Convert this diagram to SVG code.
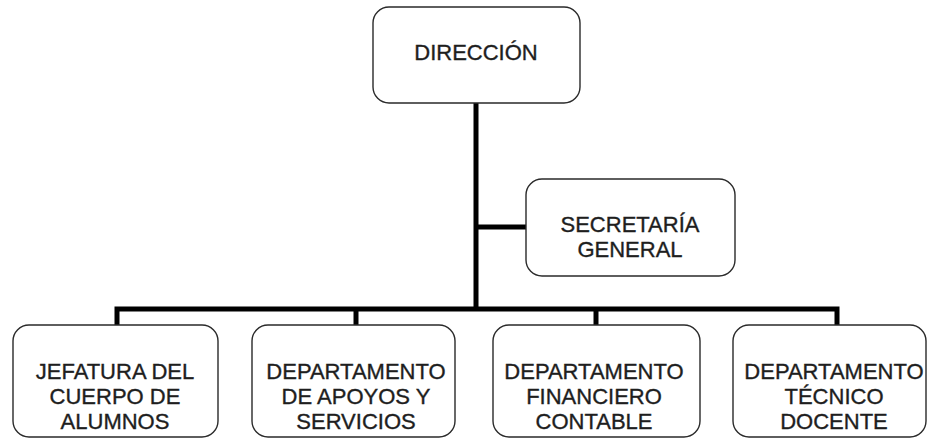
<svg xmlns="http://www.w3.org/2000/svg" width="928" height="440" viewBox="0 0 928 440">
<style>
.box{fill:#fff;stroke:#2a2a2a;stroke-width:1.4}
.t{font-family:"Liberation Sans",Arial,sans-serif;font-size:22px;fill:#1e1e1e;stroke:#1e1e1e;stroke-width:0.35;text-anchor:middle}
.c{fill:none;stroke:#000;stroke-width:5;stroke-linejoin:miter;stroke-linecap:butt}
</style>
<rect width="928" height="440" fill="#fff"/>
<g id="connectors">
<path class="c" d="M476 103 V309"/>
<path class="c" d="M476 227 H526"/>
<path class="c" d="M117 325 V309 H837 V325"/>
<path class="c" d="M356 309 V325"/>
<path class="c" d="M596 309 V325"/>
</g>
<g id="direccion">
<rect class="box" x="373" y="7" width="207" height="96" rx="16"/>
<text class="t" x="476" y="60">DIRECCIÓN</text>
</g>
<g id="secretaria">
<rect class="box" x="526" y="179" width="209" height="97" rx="16"/>
<text class="t" x="630" y="232">SECRETARÍA</text>
<text class="t" x="630" y="257">GENERAL</text>
</g>
<g id="jefatura">
<rect class="box" x="13" y="325" width="205" height="112" rx="16"/>
<text class="t" x="115" y="379">JEFATURA DEL</text>
<text class="t" x="115" y="404">CUERPO DE</text>
<text class="t" x="115" y="429">ALUMNOS</text>
</g>
<g id="apoyos">
<rect class="box" x="252" y="325" width="203" height="112" rx="16"/>
<text class="t" x="356" y="379">DEPARTAMENTO</text>
<text class="t" x="356" y="404">DE APOYOS Y</text>
<text class="t" x="356" y="429">SERVICIOS</text>
</g>
<g id="financiero">
<rect class="box" x="493" y="325" width="207" height="112" rx="16"/>
<text class="t" x="594" y="379">DEPARTAMENTO</text>
<text class="t" x="594" y="404">FINANCIERO</text>
<text class="t" x="594" y="429">CONTABLE</text>
</g>
<g id="tecnico">
<rect class="box" x="733" y="325" width="193" height="112" rx="16"/>
<text class="t" x="834" y="379">DEPARTAMENTO</text>
<text class="t" x="834" y="404">TÉCNICO</text>
<text class="t" x="834" y="429">DOCENTE</text>
</g>
</svg>
